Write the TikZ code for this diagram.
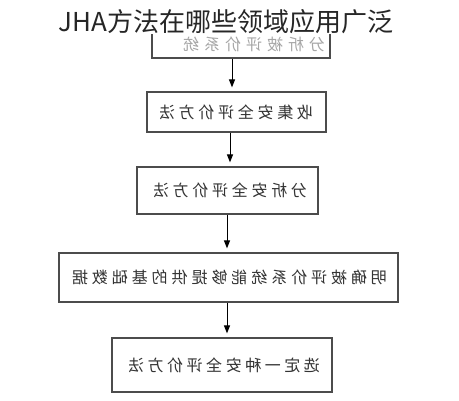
\documentclass[tikz,border=0pt]{standalone}
\usepackage{fontspec}
\usepackage{graphicx}
\newfontfamily\cjk{Noto Sans CJK SC}
\usetikzlibrary{arrows.meta}
\makeatletter
\newcommand{\spreadtext}[2]{\reflectbox{\makebox[#1][s]{\def\sp@sep{}\@tfor\sp@ch:=#2\do{\sp@sep\sp@ch\def\sp@sep{\hfil}}}}}
\makeatother
\begin{document}
\begin{tikzpicture}[x=1pt,y=1pt,
  box/.style={draw=black!70, line width=1.2pt, inner sep=0pt},
  lbl/.style={font=\cjk\fontsize{16}{16}\selectfont, text=black!80, inner sep=0pt},
  arr/.style={-{Triangle[length=8pt,width=6pt]}, line width=1pt, shorten >=4pt}]
\useasboundingbox (0,0) rectangle (459,400);
% boxes
\node[box, minimum width=178pt, minimum height=38pt] (b1) at (241,361) {};
\node[box, minimum width=179pt, minimum height=40pt] (b2) at (236.5,288) {};
\node[box, minimum width=181pt, minimum height=47pt] (b3) at (227.5,209.5) {};
\node[box, minimum width=339pt, minimum height=49pt] (b4) at (228.5,122.5) {};
\node[box, minimum width=220pt, minimum height=54pt] (b5) at (222,35) {};
% labels (mirrored as in the reference)
\node[lbl, text=black!35] (t1) at (254,356) {\spreadtext{142pt}{分析被评价系统}};
\node[lbl] (t2) at (236,288) {\spreadtext{154pt}{收集安全评价方法}};
\node[lbl] (t3) at (230,209.5) {\spreadtext{154pt}{分析安全评价方法}};
\node[lbl] (t4) at (229.5,122.5) {\spreadtext{315pt}{明确被评价系统能够提供的基础数据}};
\node[lbl] (t5) at (224,35) {\spreadtext{192pt}{选定一种安全评价方法}};
% arrows
\coordinate (x1) at (232,0);
\coordinate (x2) at (230,0);
\coordinate (x3) at (227,0);
\coordinate (x4) at (227,0);
\draw[arr] (b1.south -| x1) -- (b2.north -| x1);
\draw[arr] (b2.south -| x2) -- (b3.north -| x2);
\draw[arr] (b3.south -| x3) -- (b4.north -| x3);
\draw[arr] (b4.south -| x4) -- (b5.north -| x4);
% title with white background
\fill[white] (0,366) rectangle (459,400);
\node[font=\cjk\fontsize{26}{26}\selectfont, text=black!85, inner sep=0pt] (title) at (226,378) {JHA方法在哪些领域应用广泛};
\end{tikzpicture}
\end{document}
